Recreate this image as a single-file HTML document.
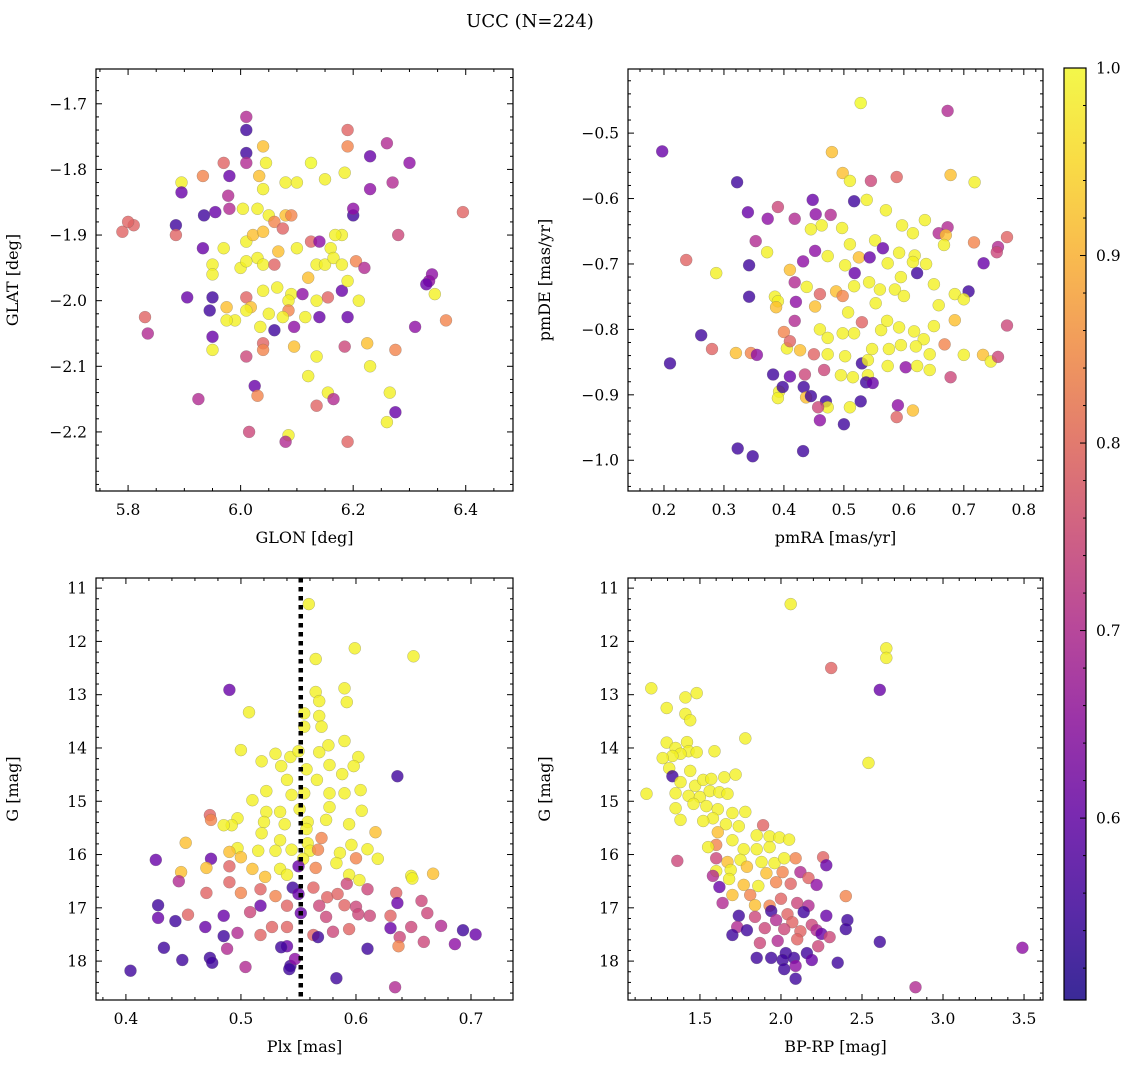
<!DOCTYPE html>
<html><head><meta charset="utf-8">
<style>
html,body{margin:0;padding:0;background:#fff;}
svg{display:block;font-family:"DejaVu Serif","Liberation Serif",serif;}
</style></head>
<body>
<svg id="chart" width="1136" height="1068" viewBox="0 0 1136 1068" xmlns="http://www.w3.org/2000/svg">
<defs>
<linearGradient id="plasma" x1="0" y1="1" x2="0" y2="0">
<stop offset="0" stop-color="#3a2a98"/><stop offset="0.1" stop-color="#5b2aa8"/><stop offset="0.2" stop-color="#7a2ab0"/><stop offset="0.3" stop-color="#9b34a8"/><stop offset="0.4" stop-color="#b8489a"/><stop offset="0.5" stop-color="#cf6184"/><stop offset="0.6" stop-color="#e27b6e"/><stop offset="0.7" stop-color="#f19a5c"/><stop offset="0.8" stop-color="#f9bb4e"/><stop offset="0.9" stop-color="#f9dc45"/><stop offset="1" stop-color="#f3f74a"/>
</linearGradient>
</defs>
<text x="530" y="27" font-size="18" text-anchor="middle">UCC (N=224)</text>
</svg>
<script>
// ---- Panel 1: GLON vs GLAT ----
const glonX=[6.01,6.01,6.01,6.01,6.045,6.04,5.97,5.98,5.895,5.895,5.978,6.033,6.04,6.08,6.10,6.125,6.15,6.185,6.19,6.19,6.26,6.27,6.23,6.30,6.23,5.933,5.933,5.98,6.004,6.03,6.05,6.08,6.09,5.79,5.81,5.80,5.885,5.885,5.935,5.955,6.20,6.20,6.395,6.28,6.18,6.168,6.16,6.125,6.14,6.01,6.022,6.04,6.06,6.075,6.03,6.067,6.10,5.95,5.97,6.00,6.01,6.04,6.06,6.135,6.15,6.165,6.18,6.205,6.22,5.95,5.905,5.95,5.945,5.975,5.95,5.95,5.83,5.835,6.01,6.018,6.04,6.065,6.09,6.085,6.085,6.11,6.12,6.135,6.155,6.18,6.19,6.19,6.21,6.115,6.075,6.05,6.01,5.99,5.975,6.035,6.06,6.095,6.14,6.01,6.04,6.04,6.095,6.135,6.185,6.225,6.275,6.31,6.365,6.34,6.345,6.335,6.33,6.025,6.03,6.12,6.155,6.135,6.165,6.23,6.265,6.275,5.925,6.015,6.085,6.08,6.19,6.26];
const glatY=[-1.72,-1.74,-1.775,-1.79,-1.79,-1.765,-1.79,-1.81,-1.82,-1.835,-1.84,-1.81,-1.83,-1.82,-1.82,-1.79,-1.815,-1.805,-1.765,-1.74,-1.76,-1.82,-1.78,-1.79,-1.83,-1.81,-1.92,-1.86,-1.86,-1.86,-1.87,-1.87,-1.87,-1.895,-1.885,-1.88,-1.885,-1.9,-1.87,-1.865,-1.87,-1.86,-1.865,-1.9,-1.9,-1.9,-1.92,-1.91,-1.91,-1.91,-1.9,-1.895,-1.88,-1.89,-1.935,-1.925,-1.92,-1.945,-1.92,-1.95,-1.94,-1.945,-1.945,-1.945,-1.945,-1.935,-1.945,-1.94,-1.95,-1.96,-1.995,-1.995,-2.015,-2.01,-2.055,-2.075,-2.025,-2.05,-1.995,-2.01,-1.985,-1.98,-1.99,-2.0,-2.015,-1.99,-1.965,-2.0,-1.995,-1.985,-2.025,-1.97,-2.0,-2.025,-2.025,-2.02,-2.015,-2.03,-2.03,-2.04,-2.045,-2.04,-2.025,-2.085,-2.065,-2.075,-2.07,-2.085,-2.07,-2.065,-2.075,-2.04,-2.03,-1.96,-1.99,-1.97,-1.975,-2.13,-2.145,-2.115,-2.14,-2.16,-2.15,-2.1,-2.14,-2.17,-2.15,-2.2,-2.205,-2.215,-2.215,-2.185];
const glC=[0.7,0.55,0.55,0.7,0.99,0.93,0.8,0.6,0.99,0.6,0.7,0.93,0.99,0.99,0.99,1.0,0.99,0.99,0.85,0.8,0.7,0.7,0.6,0.65,0.65,0.85,0.6,0.7,0.99,0.99,0.99,0.93,0.85,0.8,0.8,0.8,0.55,0.8,0.55,0.6,0.55,0.65,0.8,0.75,0.99,0.99,0.99,0.8,0.65,0.99,0.93,0.93,0.85,0.8,0.99,0.93,0.99,0.99,0.99,0.99,0.99,0.99,0.8,0.99,0.99,0.99,0.99,0.85,0.7,0.99,0.6,0.55,0.55,0.93,0.6,0.99,0.8,0.7,0.8,0.93,0.99,0.99,0.99,0.99,0.85,0.65,0.93,0.99,0.8,0.6,0.6,0.99,0.99,0.99,0.99,0.99,0.99,0.99,0.99,0.99,0.55,0.65,0.6,0.75,0.8,0.85,0.93,0.99,0.75,0.93,0.85,0.65,0.85,0.65,0.99,0.65,0.6,0.6,0.85,0.99,0.99,0.8,0.7,0.99,0.99,0.6,0.7,0.75,0.99,0.7,0.8,0.99];
// ---- Panel 2: pmRA vs pmDE ----
const pmraX=[0.528,0.673,0.197,0.322,0.48,0.498,0.51,0.545,0.588,0.678,0.718,0.39,0.448,0.517,0.538,0.34,0.373,0.418,0.453,0.463,0.478,0.497,0.445,0.57,0.597,0.615,0.635,0.658,0.673,0.67,0.667,0.717,0.757,0.772,0.755,0.733,0.237,0.287,0.342,0.353,0.372,0.41,0.432,0.452,0.473,0.502,0.51,0.525,0.543,0.552,0.565,0.592,0.618,0.637,0.615,0.573,0.518,0.487,0.46,0.438,0.418,0.385,0.342,0.39,0.387,0.42,0.498,0.517,0.542,0.56,0.585,0.595,0.622,0.6,0.65,0.685,0.708,0.7,0.658,0.553,0.507,0.452,0.418,0.46,0.473,0.498,0.517,0.53,0.562,0.572,0.592,0.617,0.633,0.65,0.685,0.772,0.262,0.28,0.32,0.345,0.355,0.405,0.427,0.4,0.41,0.45,0.473,0.502,0.53,0.54,0.547,0.575,0.595,0.62,0.643,0.668,0.7,0.732,0.745,0.757,0.21,0.382,0.41,0.435,0.467,0.495,0.515,0.54,0.537,0.548,0.573,0.603,0.622,0.643,0.678,0.433,0.437,0.445,0.392,0.39,0.398,0.47,0.473,0.457,0.51,0.528,0.59,0.615,0.588,0.46,0.5,0.323,0.348,0.432];
const pmdeY=[-0.454,-0.466,-0.528,-0.575,-0.529,-0.561,-0.573,-0.573,-0.567,-0.564,-0.575,-0.613,-0.602,-0.604,-0.602,-0.621,-0.631,-0.631,-0.624,-0.641,-0.625,-0.645,-0.647,-0.618,-0.641,-0.653,-0.633,-0.653,-0.644,-0.656,-0.671,-0.667,-0.674,-0.659,-0.682,-0.699,-0.694,-0.714,-0.702,-0.665,-0.682,-0.709,-0.696,-0.68,-0.688,-0.702,-0.67,-0.69,-0.69,-0.664,-0.676,-0.683,-0.687,-0.7,-0.697,-0.699,-0.714,-0.742,-0.746,-0.735,-0.728,-0.75,-0.75,-0.757,-0.766,-0.758,-0.749,-0.734,-0.728,-0.739,-0.739,-0.72,-0.714,-0.749,-0.731,-0.746,-0.742,-0.754,-0.763,-0.76,-0.774,-0.765,-0.787,-0.8,-0.813,-0.806,-0.806,-0.789,-0.801,-0.787,-0.797,-0.803,-0.815,-0.795,-0.786,-0.794,-0.809,-0.83,-0.836,-0.836,-0.839,-0.829,-0.832,-0.804,-0.818,-0.838,-0.838,-0.841,-0.852,-0.847,-0.83,-0.83,-0.824,-0.826,-0.838,-0.823,-0.839,-0.839,-0.849,-0.842,-0.852,-0.869,-0.872,-0.869,-0.862,-0.87,-0.873,-0.87,-0.881,-0.882,-0.856,-0.858,-0.856,-0.862,-0.873,-0.888,-0.904,-0.902,-0.895,-0.905,-0.888,-0.91,-0.919,-0.919,-0.919,-0.91,-0.916,-0.924,-0.934,-0.939,-0.945,-0.982,-0.994,-0.986];
const pmC=[1.0,0.7,0.6,0.55,0.93,0.93,0.99,0.75,0.8,0.93,0.99,0.75,0.6,0.55,0.99,0.6,0.65,0.7,0.65,0.99,0.7,0.99,0.99,0.99,0.99,0.99,0.99,0.7,0.7,0.93,0.99,0.85,0.7,0.8,0.75,0.6,0.8,0.99,0.55,0.7,0.99,0.93,0.65,0.65,0.99,0.99,0.99,0.93,0.6,0.99,0.6,0.99,0.99,0.99,0.99,0.99,0.6,0.93,0.8,0.99,0.7,0.99,0.55,0.99,0.93,0.65,0.85,0.99,0.99,0.99,0.99,0.99,0.55,0.99,0.99,0.99,0.55,0.99,0.99,0.99,0.99,0.93,0.7,0.99,0.99,0.99,0.99,0.8,0.99,0.99,0.99,0.99,0.99,0.99,0.93,0.75,0.55,0.8,0.93,0.85,0.65,0.99,0.93,0.85,0.8,0.8,0.99,0.99,0.55,0.99,0.99,0.99,0.99,0.99,0.99,0.85,0.99,0.93,0.99,0.75,0.55,0.55,0.6,0.75,0.75,0.99,0.99,0.99,0.55,0.6,0.99,0.65,0.99,0.99,0.75,0.55,0.93,0.55,0.99,0.99,0.55,0.55,0.99,0.75,0.99,0.55,0.65,0.93,0.8,0.65,0.55,0.55,0.55,0.55];
// ---- Panel 3: Plx vs G ----
const plxX=[0.559,0.565,0.599,0.65,0.49,0.565,0.568,0.59,0.592,0.507,0.555,0.568,0.57,0.555,0.5,0.53,0.543,0.55,0.557,0.535,0.518,0.568,0.576,0.59,0.602,0.598,0.577,0.566,0.54,0.522,0.544,0.555,0.588,0.59,0.577,0.577,0.604,0.636,0.51,0.522,0.534,0.551,0.497,0.492,0.485,0.473,0.474,0.52,0.538,0.558,0.574,0.594,0.605,0.518,0.534,0.557,0.558,0.57,0.617,0.452,0.497,0.49,0.515,0.53,0.544,0.56,0.586,0.596,0.61,0.567,0.474,0.426,0.5,0.554,0.583,0.6,0.619,0.47,0.49,0.51,0.534,0.55,0.565,0.448,0.521,0.54,0.594,0.603,0.648,0.667,0.649,0.446,0.49,0.517,0.545,0.563,0.592,0.61,0.47,0.5,0.53,0.55,0.575,0.584,0.635,0.428,0.517,0.54,0.568,0.59,0.6,0.636,0.657,0.454,0.428,0.508,0.552,0.574,0.602,0.612,0.63,0.662,0.443,0.485,0.469,0.527,0.54,0.497,0.563,0.567,0.58,0.594,0.63,0.648,0.674,0.693,0.704,0.485,0.517,0.638,0.659,0.54,0.535,0.637,0.433,0.488,0.473,0.475,0.61,0.449,0.543,0.547,0.686,0.504,0.542,0.404,0.583,0.634];
const plxG=[11.3,12.33,12.13,12.28,12.91,12.95,13.12,12.88,13.14,13.33,13.35,13.4,13.6,13.6,14.04,14.11,14.17,14.06,14.4,14.34,14.25,14.08,13.95,13.87,14.17,14.34,14.32,14.6,14.6,14.81,14.88,14.85,14.49,14.85,14.85,15.11,14.79,14.53,14.98,15.2,15.2,15.15,15.32,15.45,15.45,15.26,15.35,15.39,15.43,15.39,15.35,15.43,15.18,15.6,15.73,15.52,15.79,15.69,15.58,15.78,15.88,15.95,15.93,15.93,15.91,15.93,15.97,15.82,15.9,15.91,16.08,16.1,16.05,16.08,16.16,16.07,16.08,16.25,16.22,16.27,16.27,16.22,16.25,16.33,16.42,16.38,16.38,16.48,16.4,16.36,16.45,16.5,16.52,16.65,16.62,16.62,16.55,16.65,16.72,16.72,16.78,16.74,16.8,16.74,16.72,16.95,16.96,16.96,16.96,16.95,16.98,16.91,16.87,17.13,17.19,17.08,17.1,17.17,17.12,17.15,17.15,17.1,17.25,17.15,17.36,17.36,17.36,17.47,17.51,17.55,17.45,17.4,17.38,17.36,17.34,17.42,17.5,17.53,17.51,17.55,17.64,17.72,17.74,17.72,17.75,17.77,17.94,18.03,17.77,17.98,18.09,17.96,17.68,18.11,18.15,18.18,18.32,18.49];
const plxC=[0.99,0.99,0.99,0.99,0.6,0.99,0.99,0.99,0.99,0.99,0.99,0.99,0.99,0.99,0.99,0.99,0.99,0.99,0.99,0.99,0.99,0.99,0.99,0.99,0.99,0.99,0.99,0.99,0.99,0.99,0.99,0.99,0.99,0.99,0.99,0.99,0.99,0.55,0.99,0.99,0.99,0.99,0.99,0.99,0.99,0.8,0.85,0.99,0.99,0.99,0.99,0.99,0.99,0.99,0.99,0.99,0.99,0.85,0.93,0.93,0.99,0.93,0.99,0.99,0.99,0.99,0.99,0.99,0.99,0.85,0.6,0.6,0.93,0.99,0.99,0.85,0.99,0.93,0.8,0.93,0.99,0.6,0.85,0.93,0.93,0.99,0.99,0.99,0.99,0.93,0.99,0.7,0.8,0.8,0.55,0.8,0.75,0.75,0.8,0.85,0.85,0.6,0.8,0.8,0.8,0.55,0.6,0.8,0.75,0.8,0.75,0.6,0.75,0.8,0.6,0.75,0.6,0.75,0.75,0.75,0.8,0.75,0.55,0.6,0.6,0.8,0.8,0.7,0.8,0.55,0.75,0.8,0.6,0.75,0.7,0.55,0.6,0.55,0.8,0.75,0.75,0.6,0.55,0.85,0.55,0.7,0.55,0.55,0.55,0.55,0.55,0.65,0.65,0.7,0.55,0.55,0.55,0.7];
const plxMarker=[0.552];
// ---- Panel 4: BP-RP vs G ----
const bprpX=[2.06,2.65,2.65,2.31,1.2,1.48,2.61,1.41,1.295,1.41,1.44,1.78,1.295,1.35,1.42,1.43,1.38,1.33,1.27,1.48,1.59,2.54,1.31,1.44,1.33,1.38,1.47,1.52,1.57,1.65,1.72,1.17,1.35,1.43,1.5,1.56,1.62,1.67,1.35,1.46,1.54,1.61,1.7,1.78,1.58,1.52,1.38,1.66,1.74,1.89,1.61,1.7,1.85,1.93,1.99,2.05,1.6,1.55,1.77,1.85,1.93,2.09,2.26,2.28,1.36,1.6,1.67,1.75,1.88,1.96,2.02,1.6,1.69,1.79,1.91,2.01,2.12,1.58,1.68,1.77,1.86,1.97,2.06,2.17,2.22,1.62,1.7,1.81,2.4,1.84,1.93,2.0,2.1,2.17,1.64,1.74,1.94,2.04,2.14,1.84,1.97,2.07,2.19,2.28,2.41,1.73,1.79,1.9,2.02,2.12,2.22,2.25,2.3,2.4,1.7,1.87,1.98,2.1,2.23,2.61,3.49,2.03,2.16,2.01,2.08,2.19,1.85,1.94,2.09,2.35,2.09,2.02,2.83];
const bprpG=[11.3,12.13,12.31,12.5,12.88,12.97,12.91,13.05,13.25,13.36,13.48,13.82,13.9,14.0,13.89,14.06,14.11,14.15,14.19,14.08,14.06,14.28,14.38,14.43,14.53,14.64,14.71,14.6,14.58,14.55,14.5,14.86,14.85,14.9,14.92,14.81,14.83,14.86,15.13,15.05,15.09,15.15,15.22,15.2,15.32,15.37,15.35,15.43,15.47,15.45,15.58,15.73,15.64,15.66,15.68,15.72,15.82,15.86,15.9,15.9,15.86,16.07,16.05,16.2,16.12,16.07,16.14,16.1,16.14,16.16,16.07,16.31,16.29,16.23,16.35,16.33,16.33,16.4,16.46,16.57,16.59,16.52,16.55,16.44,16.57,16.61,16.76,16.76,16.78,16.95,16.96,16.83,16.91,16.96,16.91,17.15,17.06,17.12,17.08,17.17,17.23,17.27,17.32,17.15,17.23,17.36,17.42,17.38,17.4,17.44,17.42,17.49,17.55,17.4,17.51,17.66,17.62,17.59,17.72,17.64,17.75,17.85,17.85,17.98,17.94,17.98,17.94,17.94,18.09,18.03,18.33,18.15,18.49];
const bprpC=[0.99,0.99,0.99,0.8,0.99,0.99,0.6,0.99,0.99,0.99,0.99,0.99,0.99,0.99,0.99,0.99,0.99,0.99,0.99,0.99,0.99,0.99,0.99,0.99,0.55,0.99,0.99,0.99,0.99,0.99,0.99,0.99,0.99,0.99,0.99,0.99,0.99,0.99,0.99,0.99,0.99,0.99,0.99,0.99,0.99,0.99,0.99,0.99,0.99,0.8,0.93,0.99,0.99,0.99,0.99,0.99,0.85,0.99,0.99,0.99,0.99,0.85,0.8,0.6,0.75,0.75,0.93,0.99,0.99,0.99,0.99,0.99,0.99,0.93,0.93,0.85,0.7,0.7,0.99,0.93,0.99,0.85,0.8,0.8,0.65,0.6,0.93,0.85,0.85,0.93,0.85,0.8,0.75,0.7,0.7,0.55,0.55,0.8,0.55,0.75,0.7,0.8,0.75,0.6,0.55,0.7,0.55,0.75,0.75,0.8,0.7,0.6,0.75,0.55,0.55,0.75,0.7,0.8,0.75,0.55,0.65,0.55,0.55,0.55,0.55,0.6,0.55,0.55,0.65,0.55,0.55,0.55,0.7];
// ---- Colorbar ----
const cbarTicks=[0.6,0.7,0.8,0.9,1.0];
const cbarMin=0.503, cbarMax=1.0;

const NS="http://www.w3.org/2000/svg";
const svg=document.getElementById('chart');
function mk(tag,attrs,parent){const e=document.createElementNS(NS,tag);for(const k in attrs)e.setAttribute(k,attrs[k]);(parent||svg).appendChild(e);return e;}
const stops=[[0,[13,8,135]],[0.1,[65,4,157]],[0.2,[106,0,168]],[0.3,[143,13,164]],[0.4,[177,42,144]],[0.5,[204,71,120]],[0.6,[225,100,98]],[0.7,[242,132,75]],[0.8,[252,166,54]],[0.9,[252,206,37]],[1,[240,249,33]]];
function plasma(v){let t=(v-cbarMin)/(cbarMax-cbarMin);t=Math.max(0,Math.min(1,t));for(let i=1;i<stops.length;i++){if(t<=stops[i][0]){const a=stops[i-1],b=stops[i];const f=(t-a[0])/(b[0]-a[0]);const c=a[1].map((x,j)=>Math.round(x+(b[1][j]-x)*f));return `rgb(${c[0]},${c[1]},${c[2]})`;}}return 'rgb(240,249,33)';}
function fmt(v,dec){let s=v.toFixed(dec);if(s.startsWith('-'))s='\u2212'+s.slice(1);return s;}

function panel(p){
  const g=mk('g',{});
  
  
  const sx=v=>p.x0+(v-p.xmin)/(p.xmax-p.xmin)*(p.x1-p.x0);
  const sy=v=>p.inv? p.y0+(v-p.ymin)/(p.ymax-p.ymin)*(p.y1-p.y0) : p.y1-(v-p.ymin)/(p.ymax-p.ymin)*(p.y1-p.y0);
  const clip='c'+p.name;
  const cp=mk('clipPath',{id:clip},g);mk('rect',{x:p.x0,y:p.y0,width:p.x1-p.x0,height:p.y1-p.y0},cp);
  const pts=mk('g',{'clip-path':`url(#${clip})`},g);
  
  
  for(let i=0;i<p.xs.length;i++){
    const c=mk('circle',{cx:sx(p.xs[i]).toFixed(1),cy:sy(p.ys[i]).toFixed(1),r:6,fill:plasma(p.cs[i]),'fill-opacity':0.8,stroke:'#666','stroke-width':0.4,'stroke-opacity':0.6},pts);
    
    
  }
  if(p.vline){for(const v of p.vline){const l=mk('line',{x1:sx(v),x2:sx(v),y1:p.y0,y2:p.y1,stroke:'#000','stroke-width':4.5,'stroke-dasharray':'4.5,4.5'},g);
    
    }}
  mk('rect',{x:p.x0,y:p.y0,width:p.x1-p.x0,height:p.y1-p.y0,fill:'none',stroke:'#000','stroke-width':1.2},g);
  const eps=1e-9;
  for(let v=Math.ceil(p.xmin/p.xminor-eps)*p.xminor;v<=p.xmax+eps;v+=p.xminor){
    const X=sx(v);const isMaj=Math.abs(v/p.xmajor-Math.round(v/p.xmajor))<1e-6;const L=isMaj?6:3;
    mk('line',{x1:X,x2:X,y1:p.y1,y2:p.y1-L,stroke:'#000','stroke-width':1},g);
    mk('line',{x1:X,x2:X,y1:p.y0,y2:p.y0+L,stroke:'#000','stroke-width':1},g);
    if(isMaj){const t=mk('text',{x:X,y:p.y1+24,'font-size':15.5,'text-anchor':'middle'},g);t.textContent=fmt(v,p.xdec);
      }
  }
  for(let v=Math.ceil(p.ymin/p.yminor-eps)*p.yminor;v<=p.ymax+eps;v+=p.yminor){
    const Y=sy(v);const isMaj=Math.abs(v/p.ymajor-Math.round(v/p.ymajor))<1e-6;const L=isMaj?6:3;
    mk('line',{x1:p.x0,x2:p.x0+L,y1:Y,y2:Y,stroke:'#000','stroke-width':1},g);
    mk('line',{x1:p.x1,x2:p.x1-L,y1:Y,y2:Y,stroke:'#000','stroke-width':1},g);
    if(isMaj){const t=mk('text',{x:p.x0-9,y:Y+5.5,'font-size':15.5,'text-anchor':'end'},g);t.textContent=fmt(v,p.ydec);
      }
  }
  const xl=mk('text',{x:(p.x0+p.x1)/2,y:p.y1+52,'font-size':16,'text-anchor':'middle'},g);xl.textContent=p.xlabel;
  
  const yx=p.x0-78,yc=(p.y0+p.y1)/2;
  const yl=mk('text',{x:yx,y:yc,'font-size':16,'text-anchor':'middle',transform:`rotate(-90 ${yx} ${yc})`},g);yl.textContent=p.ylabel;
  
}
panel({name:'glon-glat-panel',xs:glonX,ys:glatY,cs:glC,x0:96,x1:513,y0:69,y1:491,xmin:5.743,xmax:6.484,ymin:-2.29,ymax:-1.647,xmajor:0.2,xminor:0.05,ymajor:0.1,yminor:0.02,xdec:1,ydec:1,xlabel:'GLON [deg]',ylabel:'GLAT [deg]'});
panel({name:'pm-panel',xs:pmraX,ys:pmdeY,cs:pmC,x0:628,x1:1043,y0:69,y1:491,xmin:0.14,xmax:0.832,ymin:-1.047,ymax:-0.402,xmajor:0.1,xminor:0.02,ymajor:0.1,yminor:0.02,xdec:1,ydec:1,xlabel:'pmRA [mas/yr]',ylabel:'pmDE [mas/yr]'});
panel({name:'plx-g-panel',xs:plxX,ys:plxG,cs:plxC,vline:plxMarker,inv:true,x0:96,x1:513,y0:578,y1:1000,xmin:0.374,xmax:0.7365,ymin:10.81,ymax:18.73,xmajor:0.1,xminor:0.02,ymajor:1,yminor:0.2,xdec:1,ydec:0,xlabel:'Plx [mas]',ylabel:'G [mag]'});
panel({name:'cmd-panel',xs:bprpX,ys:bprpG,cs:bprpC,inv:true,x0:628,x1:1043,y0:578,y1:1000,xmin:1.056,xmax:3.617,ymin:10.81,ymax:18.73,xmajor:0.5,xminor:0.1,ymajor:1,yminor:0.2,xdec:1,ydec:0,xlabel:'BP-RP [mag]',ylabel:'G [mag]'});

const cb=mk('g',{});


const cx0=1064,cx1=1086,cy0=68,cy1=1000;
mk('rect',{x:cx0,y:cy0,width:cx1-cx0,height:cy1-cy0,fill:'url(#plasma)',stroke:'#000','stroke-width':1.2},cb);
const cy=v=>cy1-(v-cbarMin)/(cbarMax-cbarMin)*(cy1-cy0);
for(let k=Math.ceil(cbarMin/0.02);k*0.02<=cbarMax+1e-9;k++){const v=k*0.02;const Y=cy(v);const maj=(k%5===0);
  mk('line',{x1:cx1,x2:cx1-(maj?6:3),y1:Y,y2:Y,stroke:'#000','stroke-width':1},cb);}
for(const v of cbarTicks){const t=mk('text',{x:cx1+10,y:cy(v)+5.5,'font-size':15.5},cb);t.textContent=v.toFixed(1);
  }
</script>
</body></html>
